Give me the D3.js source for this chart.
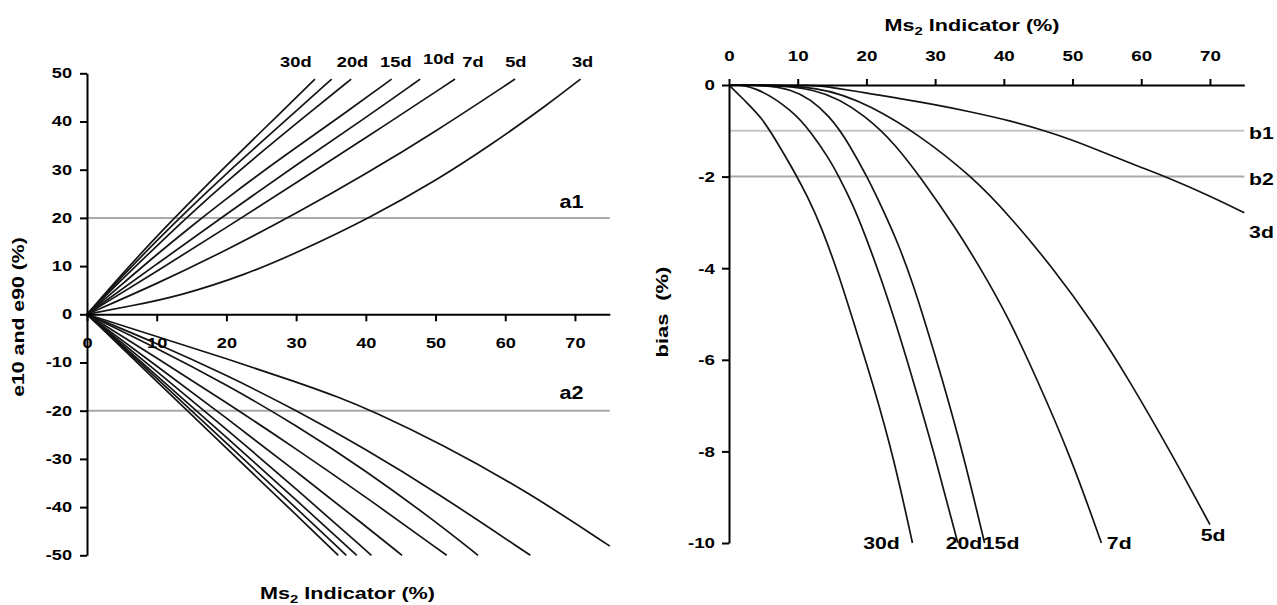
<!DOCTYPE html>
<html><head><meta charset="utf-8">
<script src="https://cdn.jsdelivr.net/npm/d3@7"></script>
<style>
body{margin:0;background:#fff}
svg{display:block}
text{font-family:"Liberation Sans",Arial,Helvetica,sans-serif;font-weight:bold;fill:#000}
</style>
</head><body>
<svg id="c" width="1277" height="605"></svg>
<script>
// ---------------- DATA ----------------
const xTicks = [0, 10, 20, 30, 40, 50, 60, 70];
const leftYTicks = [-50, -40, -30, -20, -10, 0, 10, 20, 30, 40, 50];
const rightYTicks = [0, -2, -4, -6, -8, -10];

// left panel: e90 curves (upper fan), read as [Ms2 indicator %, e90 %]
const upperNames = ["30d", "25d", "20d", "15d", "10d", "7d", "5d", "3d"];
const upperLines = [
  [[0,0],[5,8.3],[10,16.2],[15,23.6],[20,30.9],[25,37.9],[32.7,48.8]],
  [[0,0],[5,7.8],[10,15.3],[15,22.4],[20,29.2],[25,35.7],[30,42.2],[35.1,48.8]],
  [[0,0],[5,7.2],[10,14.2],[15,21.0],[20,27.5],[25,33.6],[30,39.6],[37.9,48.8]],
  [[0,0],[5,6.2],[10,12.4],[15,18.3],[20,24.0],[25,29.4],[30,34.6],[36.3,41.0],[43.7,48.8]],
  [[0,0],[10,10.4],[20,20.8],[30,31.0],[40,40.8],[47.8,48.8]],
  [[0,0],[10,8.9],[20,18.0],[30,27.3],[40,36.6],[52.8,48.8]],
  [[0,0],[10,6.3],[20,13.3],[30,20.9],[40,29.1],[50,37.9],[61.4,48.8]],
  [[0,0],[6.2,1.7],[13.3,3.8],[22.9,8.3],[30,12.7],[40.6,20],[50.6,28.2],[57.8,35.0],[66,43.4],[70.8,48.8]]
];
// left panel: e10 curves (lower fan)
const lowerLines = [
  [[0,0],[10,-13.9],[20,-27.8],[30,-41.6],[36.05,-50]],
  [[0,0],[10,-13.3],[20,-26.7],[30,-40.2],[37.2,-50]],
  [[0,0],[10,-12.7],[20,-25.5],[30,-38.5],[38.7,-50]],
  [[0,0],[10,-11.8],[20,-23.8],[30,-36.2],[40.8,-50]],
  [[0,0],[10,-10.7],[20,-21.5],[30,-32.6],[40,-44.0],[45.2,-50]],
  [[0,0],[10,-9.0],[20,-18.3],[30,-27.9],[40,-37.9],[51.6,-50]],
  [[0,0],[10,-7.0],[20,-14.6],[30,-23.0],[40,-32.4],[50,-43.0],[56.1,-50]],
  [[0,0],[10,-6.0],[20,-12.6],[30,-19.9],[40,-28.0],[50,-36.8],[63.6,-50]],
  [[0,0],[10,-4.6],[20,-9.2],[30,-14.0],[36.3,-17.3],[41,-20.1],[50.6,-26.7],[63.1,-36.7],[75,-48.1]]
];
const upperLabelNames = ["30d", "20d", "15d", "10d", "7d", "5d", "3d"];
const limitA = [20, -20];
const limitANames = ["a1", "a2"];

// right panel: bias curves
const biasNames = ["30d", "20d", "15d", "7d", "5d", "3d"];
const biasLines = [
  [[0,0],[2.5,-0.37],[4.8,-0.72],[7,-1.25],[9.2,-1.81],[11.5,-2.45],[13.5,-3.12],[16,-4.15],[18.4,-5.31],[21,-6.55],[24,-8.15],[26.7,-10]],
  [[0,0],[3.6,0],[9.4,-0.57],[12,-1.05],[14.5,-1.59],[16,-2],[18,-2.6],[19.8,-3.27],[22.2,-4.25],[24.5,-5.31],[26.4,-6.25],[29.8,-8],[33.3,-10]],
  [[0,0],[9.7,0],[15,-0.72],[17.5,-1.3],[20.1,-2],[22.5,-2.75],[24.7,-3.49],[26.8,-4.35],[28.8,-5.31],[30.8,-6.3],[34,-8],[37.2,-10]],
  [[0,0],[13.2,0],[20.3,-0.72],[24.2,-1.3],[27.8,-2],[33,-3.12],[37,-4.1],[40.7,-5.09],[44.7,-6.38],[49.7,-8.1],[54.2,-10]],
  [[0,0],[13.5,0],[20.8,-0.47],[27.6,-1.08],[35.4,-2],[40.9,-2.87],[47,-3.97],[53,-5.2],[58,-6.38],[64.5,-8.07],[70,-9.6]],
  [[0,0],[13,0],[15,-0.06],[20,-0.17],[24.2,-0.28],[30,-0.43],[35,-0.58],[41.2,-0.79],[46,-1.0],[50,-1.2],[55,-1.5],[60,-1.8],[63.5,-2.0],[70,-2.42],[75,-2.79]]
];
const limitB = [-1, -2];
const limitBNames = ["b1", "b2"];

// ---------------- LAYOUT ----------------
const svg = d3.select("#c");
const xL = d3.scaleLinear().domain([0, 75]).range([87, 609.8]);
const yL = d3.scaleLinear().domain([-50, 50]).range([555.3, 73.3]);
const xR = d3.scaleLinear().domain([0, 75]).range([729, 1244.3]);
const yR = d3.scaleLinear().domain([-10, 0]).range([543, 85]);

// label anchors (data space)
const upperLabelPos = [[29.96,51.4],[38.09,51.4],[44.3,51.4],[50.46,52.0],[55.38,51.4],[61.52,51.4],[71.09,51.4]];
const limitALabelPos = [[69.5,21.97],[69.5,-17.47]];
const biasLabelPos = [[22.2,-10.14],[34.2,-10.14],[39.6,-10.14],[56.8,-10.14],[70.45,-9.96],[77.5,-3.35]];
const limitBLabelPos = [[77.5,-1.17],[77.5,-2.18]];

const CURVE_COLOR = "#141414", CURVE_W = 1.7;

function stretch(sel, sx) {
  sel.each(function () {
    const t = d3.select(this);
    const x = +t.attr("x") || 0, y = +t.attr("y") || 0;
    t.attr("x", null).attr("y", null)
     .attr("transform", `translate(${x},${y}) scale(${sx},1)`);
  });
}
function label(g, x, y, s, size, sx, anchor) {
  return g.append("text").attr("font-size", size).attr("text-anchor", anchor || "middle")
    .attr("transform", `translate(${x},${y}) scale(${sx},1)`).text(s);
}

// ---------- LEFT PANEL ----------
const gl = svg.append("g");
gl.selectAll("line.lim").data(limitA).join("line")
  .attr("x1", xL(0)).attr("x2", xL(75))
  .attr("y1", d => yL(d)).attr("y2", d => yL(d))
  .attr("stroke", "#a9a9a9").attr("stroke-width", 2);

const lineL = d3.line().x(d => xL(d[0])).y(d => yL(d[1])).curve(d3.curveBasis);
gl.selectAll("path.up").data(upperLines).join("path")
  .attr("d", lineL).attr("fill", "none").attr("stroke", CURVE_COLOR).attr("stroke-width", CURVE_W);
gl.selectAll("path.lo").data(lowerLines).join("path")
  .attr("d", lineL).attr("fill", "none").attr("stroke", CURVE_COLOR).attr("stroke-width", CURVE_W);

const axLx = gl.append("g").attr("transform", `translate(0,${yL(0)})`)
  .call(d3.axisBottom(xL).tickValues(xTicks).tickSize(7).tickSizeOuter(0).tickPadding(17).tickFormat(d => String(d)));
const axLy = gl.append("g").attr("transform", `translate(${xL(0)},0)`)
  .call(d3.axisLeft(yL).tickValues(leftYTicks).tickSize(7).tickSizeOuter(0).tickPadding(8).tickFormat(d => String(d)));
[axLx, axLy].forEach(a => {
  a.attr("font-family", null).attr("font-size", null);
  a.selectAll("path,line").attr("stroke", "#000").attr("stroke-width", 2);
  a.selectAll("text").attr("font-size", 14);
  stretch(a.selectAll("text"), 1.3);
});

upperLabelNames.forEach((n, i) => label(gl, xL(upperLabelPos[i][0]), yL(upperLabelPos[i][1]), n, 15, 1.22));
limitANames.forEach((n, i) => label(gl, xL(limitALabelPos[i][0]), yL(limitALabelPos[i][1]), n, 18, 1.2));

// x title
const tl = gl.append("text").attr("font-size", 16).attr("text-anchor", "middle")
  .attr("transform", "translate(347.5,599) scale(1.35,1)");
tl.append("tspan").text("Ms");
tl.append("tspan").attr("font-size", 11).attr("dy", 4).text("2");
tl.append("tspan").attr("dy", -4).text(" Indicator (%)");
// y title
gl.append("text").attr("font-size", 16).attr("text-anchor", "middle")
  .attr("transform", "translate(24,317) rotate(-90) scale(1.33,1)")
  .text("e10 and e90 (%)");

// ---------- RIGHT PANEL ----------
const gr = svg.append("g");
gr.selectAll("line.lim").data(limitB).join("line")
  .attr("x1", xR(0)).attr("x2", xR(75))
  .attr("y1", d => yR(d)).attr("y2", d => yR(d))
  .attr("stroke", (d, i) => i === 0 ? "#c6c6c6" : "#a9a9a9").attr("stroke-width", 2);

const lineR = d3.line().x(d => xR(d[0])).y(d => yR(d[1])).curve(d3.curveBasis);
gr.selectAll("path.b").data(biasLines).join("path")
  .attr("d", lineR).attr("fill", "none").attr("stroke", CURVE_COLOR).attr("stroke-width", CURVE_W);

const axRx = gr.append("g").attr("transform", `translate(0,${yR(0)})`)
  .call(d3.axisTop(xR).tickValues(xTicks).tickSize(6).tickSizeOuter(0).tickPadding(18).tickFormat(d => String(d)));
const axRy = gr.append("g").attr("transform", `translate(${xR(0)},0)`)
  .call(d3.axisLeft(yR).tickValues(rightYTicks).tickSize(7).tickSizeOuter(0).tickPadding(7).tickFormat(d => String(d)));
[axRx, axRy].forEach(a => {
  a.attr("font-family", null).attr("font-size", null);
  a.selectAll("path,line").attr("stroke", "#000").attr("stroke-width", 2);
  a.selectAll("text").attr("font-size", 15);
  stretch(a.selectAll("text"), 1.25);
});

biasNames.forEach((n, i) => label(gr, xR(biasLabelPos[i][0]), yR(biasLabelPos[i][1]), n, 17, 1.25));
limitBNames.forEach((n, i) => label(gr, xR(limitBLabelPos[i][0]), yR(limitBLabelPos[i][1]), n, 17, 1.25));

const tr = gr.append("text").attr("font-size", 16).attr("text-anchor", "middle")
  .attr("transform", "translate(972,31) scale(1.35,1)");
tr.append("tspan").text("Ms");
tr.append("tspan").attr("font-size", 11).attr("dy", 4).text("2");
tr.append("tspan").attr("dy", -4).text(" Indicator (%)");

const yt = gr.append("text").attr("font-size", 16).attr("text-anchor", "middle")
  .attr("transform", "translate(668,312) rotate(-90) scale(1.37,1)");
yt.append("tspan").text("bias");
yt.append("tspan").attr("dx", 5).text(" (%)");
</script>
</body></html>
